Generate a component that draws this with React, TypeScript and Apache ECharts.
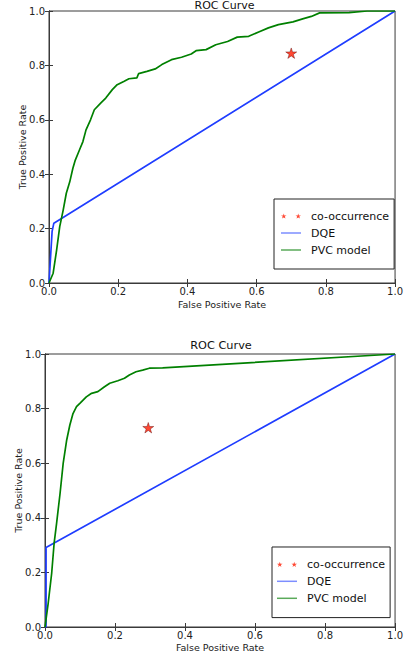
import React, { useEffect, useRef } from "react";
import * as echarts from "echarts";

// ---------- data ----------
const xTicks = [0, 0.2, 0.4, 0.6, 0.8, 1.0];

// Top chart
const topStar = [0.7, 0.845];
const topDqeFpr = [0, 0.009, 0.014, 1.0];
const topDqeTpr = [0, 0.19, 0.22, 1.0];
const topPvcFpr = [
  0, 0.012, 0.022, 0.031, 0.041, 0.05, 0.06, 0.069, 0.076, 0.088, 0.098, 0.107,
  0.12, 0.131, 0.15, 0.164, 0.183, 0.197, 0.216, 0.231, 0.254, 0.259, 0.283,
  0.307, 0.326, 0.354, 0.383, 0.411, 0.425, 0.454, 0.482, 0.516, 0.544, 0.577,
  0.606, 0.634, 0.663, 0.705, 0.733, 0.758, 0.782, 0.867, 0.919, 1.0,
];
const topPvcTpr = [
  0, 0.036, 0.121, 0.207, 0.268, 0.33, 0.372, 0.422, 0.452, 0.489, 0.52, 0.563,
  0.6, 0.637, 0.662, 0.68, 0.711, 0.729, 0.741, 0.751, 0.754, 0.77, 0.778,
  0.787, 0.803, 0.821, 0.83, 0.842, 0.854, 0.858, 0.876, 0.888, 0.904, 0.907,
  0.923, 0.938, 0.95, 0.96, 0.971, 0.98, 0.993, 0.994, 1.0, 1.0,
];

// Bottom chart
const bottomStar = [0.295, 0.73];
const bottomDqeFpr = [0, 0.003, 0.003, 1.0];
const bottomDqeTpr = [0, 0.0, 0.291, 1.0];
const bottomPvcFpr = [
  0, 0.009, 0.019, 0.026, 0.033, 0.043, 0.052, 0.062, 0.071, 0.08, 0.09, 0.101,
  0.118, 0.133, 0.151, 0.17, 0.185, 0.208, 0.227, 0.241, 0.26, 0.279, 0.298,
  0.336, 1.0,
];
const bottomPvcTpr = [
  0, 0.086, 0.196, 0.306, 0.379, 0.489, 0.6, 0.685, 0.74, 0.782, 0.807, 0.821,
  0.843, 0.856, 0.862, 0.88, 0.893, 0.902, 0.911, 0.923, 0.935, 0.941, 0.948,
  0.949, 1.0,
];

const seriesNames = ["co-occurrence", "DQE", "PVC model"];

// ---------- styles ----------
const FONT = "DejaVu Sans";
const BLUE = "#1f3dff";
const GREEN = "#008000";
const RED = "#ff1a00";
const FRAME = "#3a3a3a";

function starPts(cx: number, cy: number, R: number): string {
  const r = R * 0.381966;
  const pts: string[] = [];
  for (let i = 0; i < 10; i++) {
    const ang = ((-90 + i * 36) * Math.PI) / 180;
    const rad = i % 2 === 0 ? R : r;
    const x = cx + rad * Math.cos(ang);
    const y = cy + rad * Math.sin(ang);
    pts.push((i === 0 ? "M" : "L") + x.toFixed(3) + "," + y.toFixed(3));
  }
  return pts.join(" ") + " Z";
}
const STAR = "path://" + starPts(50, 50, 50);
// two small stars side by side (units x100 so any stroke is tiny)
const TWO_STARS =
  "path://" + starPts(276, 290, 290) + " " + starPts(1724, 290, 290);
const LINE_ICON = "path://M0,0 L2000,0 L2000,150 L0,150 Z";

const zip = (a: number[], b: number[]) => a.map((v, i) => [v, b[i]]);

function makeAxes(grid: number, xNameGap: number, yNameGap: number) {
  const tick = { show: true, inside: true, length: 4, lineStyle: { color: FRAME, width: 1 } };
  const line = { show: true, lineStyle: { color: FRAME, width: 1 } };
  const label = {
    fontSize: 10,
    fontFamily: FONT,
    color: "#222",
    formatter: (v: number) => v.toFixed(1),
  };
  const xs = [
    {
      type: "value", gridIndex: grid, min: 0, max: 1, interval: 0.2, position: "bottom",
      axisLine: line, axisTick: tick, splitLine: { show: false },
      axisLabel: { ...label, margin: 3 },
      name: "False Positive Rate", nameLocation: "middle", nameGap: xNameGap,
      nameMoveOverlap: false,
      nameTextStyle: { fontSize: 9.5, fontFamily: FONT, color: "#222" },
    },
    {
      type: "value", gridIndex: grid, min: 0, max: 1, interval: 0.2, position: "top",
      axisLine: line, axisTick: tick, splitLine: { show: false },
      axisLabel: { show: false },
    },
  ];
  const ys = [
    {
      type: "value", gridIndex: grid, min: 0, max: 1, interval: 0.2, position: "left",
      axisLine: line, axisTick: tick, splitLine: { show: false },
      axisLabel: { ...label, margin: 4 },
      name: "True Positive Rate", nameLocation: "middle", nameGap: yNameGap,
      nameMoveOverlap: false,
      nameTextStyle: { fontSize: 9.5, fontFamily: FONT, color: "#222" },
    },
    {
      type: "value", gridIndex: grid, min: 0, max: 1, interval: 0.2, position: "right",
      axisLine: line, axisTick: tick, splitLine: { show: false },
      axisLabel: { show: false },
    },
  ];
  return { xs, ys };
}

function makeSeries(axisIdx: number, star: number[], dqe: number[][], pvc: number[][]) {
  return [
    {
      type: "scatter", name: seriesNames[0], xAxisIndex: axisIdx, yAxisIndex: axisIdx,
      data: [star], symbol: STAR, symbolSize: 11, symbolKeepAspect: true,
      itemStyle: { color: RED, borderColor: "#550000", borderWidth: 0.5 },
      z: 3,
    },
    {
      type: "line", name: seriesNames[1], xAxisIndex: axisIdx, yAxisIndex: axisIdx,
      data: dqe, symbol: "none", showSymbol: false,
      lineStyle: { color: BLUE, width: 1.7 }, itemStyle: { color: BLUE }, z: 2,
    },
    {
      type: "line", name: seriesNames[2], xAxisIndex: axisIdx, yAxisIndex: axisIdx,
      data: pvc, symbol: "none", showSymbol: false,
      lineStyle: { color: GREEN, width: 1.7 }, itemStyle: { color: GREEN }, z: 2,
    },
  ];
}

function makeLegend(left: number, top: number, padding: number[]) {
  return {
    orient: "vertical",
    left,
    top,
    padding,
    itemGap: 0,
    itemWidth: 20,
    itemHeight: 5.25,
    symbolKeepAspect: true,
    borderColor: "#222",
    borderWidth: 1,
    borderRadius: 0,
    backgroundColor: "#fff",
    selectedMode: false,
    itemStyle: { borderWidth: 0 },
    textStyle: { fontSize: 11, fontFamily: FONT, color: "#111", lineHeight: 17, padding: [0, 0, 0, 5] },
    data: [
      { name: seriesNames[0], icon: TWO_STARS, itemStyle: { color: RED, borderWidth: 0 } },
      { name: seriesNames[1], icon: LINE_ICON, itemStyle: { color: "#7d8eff", borderWidth: 0 } },
      { name: seriesNames[2], icon: LINE_ICON, itemStyle: { color: "#5aaa5a", borderWidth: 0 } },
    ],
  };
}

export default function App() {
  const ref = useRef<HTMLDivElement>(null);
  useEffect(() => {
    if (!ref.current) return;
    const chart = echarts.init(ref.current, undefined, { renderer: "svg" });
    const a0 = makeAxes(0, 16, 22);
    const a1 = makeAxes(1, 15, 22);
    chart.setOption({
      animation: false,
      backgroundColor: "#fff",
      textStyle: { fontFamily: FONT },
      title: [
        {
          text: "ROC Curve", left: 224.5, top: 0, textAlign: "center", padding: 0,
          textStyle: { fontSize: 11, fontWeight: "normal", color: "#111", fontFamily: FONT },
        },
        {
          text: "ROC Curve", left: 221, top: 340, textAlign: "center", padding: 0,
          textStyle: { fontSize: 11.3, fontWeight: "normal", color: "#111", fontFamily: FONT },
        },
      ],
      grid: [
        { left: 49, top: 11, width: 351, height: 272, show: true, borderColor: FRAME, borderWidth: 1, backgroundColor: "#fff" },
        { left: 45, top: 354, width: 352, height: 273, show: true, borderColor: FRAME, borderWidth: 1, backgroundColor: "#fff" },
      ],
      xAxis: [...a0.xs, ...a1.xs],
      yAxis: [...a0.ys, ...a1.ys],
      legend: [
        makeLegend(274, 199, [8.5, 5, 10.5, 7]),
        makeLegend(272, 547, [8.8, 5, 10.8, 5]),
      ],
      series: [
        ...makeSeries(0, topStar, zip(topDqeFpr, topDqeTpr), zip(topPvcFpr, topPvcTpr)),
        ...makeSeries(2, bottomStar, zip(bottomDqeFpr, bottomDqeTpr), zip(bottomPvcFpr, bottomPvcTpr)),
      ],
    });
    return () => chart.dispose();
  }, []);
  return (
    <div
      ref={ref}
      style={{ position: "absolute", left: 0, top: 0, width: 406, height: 657 }}
    />
  );
}
